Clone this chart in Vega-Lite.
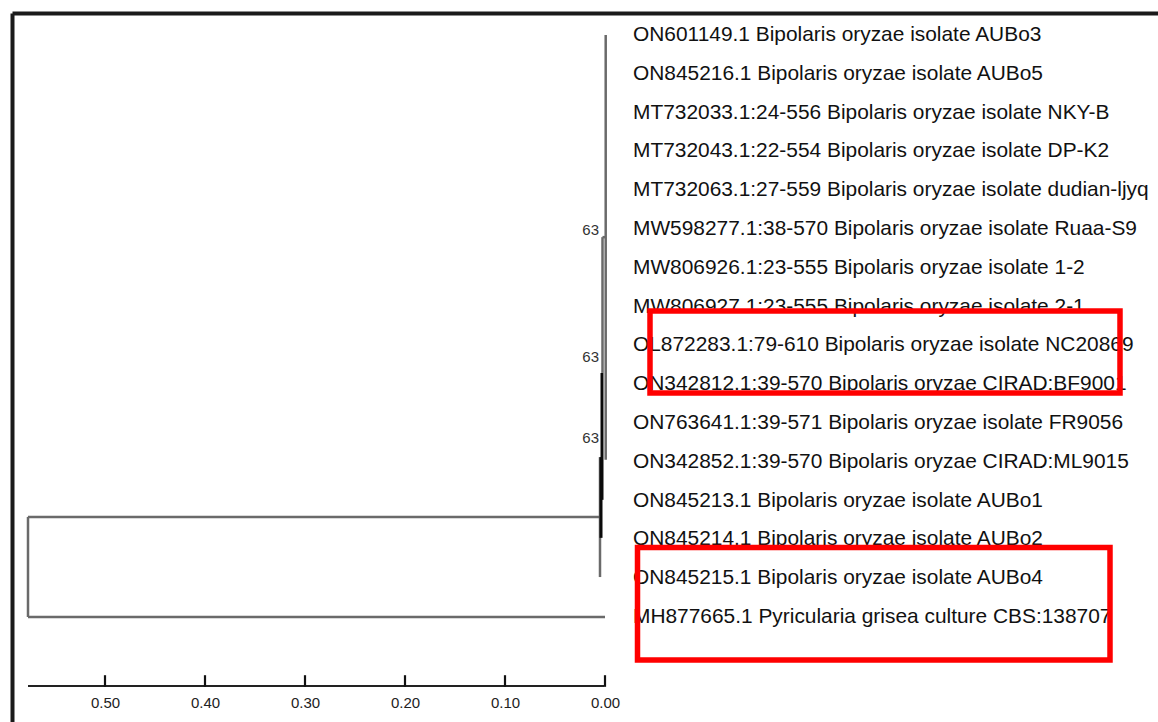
{
  "$schema": "https://vega.github.io/schema/vega-lite/v6.json",
  "width": 1146,
  "height": 709,
  "autosize": {"type": "none"},
  "padding": {"left": 12, "top": 13, "right": 0, "bottom": 0},
  "background": "#ffffff",
  "config": {"view": {"stroke": null}},
  "datasets": {
    "tips": [
      {"name": "ON601149.1 Bipolaris oryzae isolate AUBo3", "idx": 1},
      {"name": "ON845216.1 Bipolaris oryzae isolate AUBo5", "idx": 2},
      {"name": "MT732033.1:24-556 Bipolaris oryzae isolate NKY-B", "idx": 3},
      {"name": "MT732043.1:22-554 Bipolaris oryzae isolate DP-K2", "idx": 4},
      {"name": "MT732063.1:27-559 Bipolaris oryzae isolate dudian-ljyq", "idx": 5},
      {"name": "MW598277.1:38-570 Bipolaris oryzae isolate Ruaa-S9", "idx": 6},
      {"name": "MW806926.1:23-555 Bipolaris oryzae isolate 1-2", "idx": 7},
      {"name": "MW806927.1:23-555 Bipolaris oryzae isolate 2-1", "idx": 8},
      {"name": "OL872283.1:79-610 Bipolaris oryzae isolate NC20869", "idx": 9},
      {"name": "ON342812.1:39-570 Bipolaris oryzae CIRAD:BF9001", "idx": 10},
      {"name": "ON763641.1:39-571 Bipolaris oryzae isolate FR9056", "idx": 11},
      {"name": "ON342852.1:39-570 Bipolaris oryzae CIRAD:ML9015", "idx": 12},
      {"name": "ON845213.1 Bipolaris oryzae isolate AUBo1", "idx": 13},
      {"name": "ON845214.1 Bipolaris oryzae isolate AUBo2", "idx": 14},
      {"name": "ON845215.1 Bipolaris oryzae isolate AUBo4", "idx": 15},
      {"name": "MH877665.1 Pyricularia grisea culture CBS:138707", "idx": 16}
    ],
    "branches": [
      {"x1": 0.577, "x2": 0.577, "y1": 13.42, "y2": 16, "kind": "gray"},
      {"x1": 0.577, "x2": 0.0, "y1": 16, "y2": 16, "kind": "gray"},
      {"x1": 0.577, "x2": 0.005, "y1": 13.42, "y2": 13.42, "kind": "gray"},
      {"x1": 0.005, "x2": 0.005, "y1": 11.88, "y2": 14.97, "kind": "gray"},
      {"x1": 0.004, "x2": 0.004, "y1": 11.88, "y2": 13.96, "kind": "black"},
      {"x1": 0.003, "x2": 0.003, "y1": 9.71, "y2": 12.98, "kind": "black"},
      {"x1": 0.0025, "x2": 0.0025, "y1": 6.21, "y2": 9.71, "kind": "gray"},
      {"x1": 0.0025, "x2": -0.0007, "y1": 6.21, "y2": 6.21, "kind": "gray"},
      {"x1": -0.0007, "x2": -0.0007, "y1": 1, "y2": 11.95, "kind": "gray"}
    ],
    "support": [
      {"v": "63", "d": 0.006, "idx": 6.03},
      {"v": "63", "d": 0.006, "idx": 9.3},
      {"v": "63", "d": 0.006, "idx": 11.39}
    ],
    "scalebar": [
      {"x1": 0.577, "x2": 0.001, "y1": 17.778, "y2": 17.778}
    ],
    "scaleticks": [
      {"x1": 0.0, "x2": 0.0, "y1": 17.50, "y2": 17.80},
      {"x1": 0.1, "x2": 0.1, "y1": 17.50, "y2": 17.80},
      {"x1": 0.2, "x2": 0.2, "y1": 17.50, "y2": 17.80},
      {"x1": 0.3, "x2": 0.3, "y1": 17.50, "y2": 17.80},
      {"x1": 0.4, "x2": 0.4, "y1": 17.50, "y2": 17.80},
      {"x1": 0.5, "x2": 0.5, "y1": 17.50, "y2": 17.80}
    ],
    "boxes": [
      {"x1": -0.045, "x2": -0.515, "y1": 8.113, "y2": 10.227},
      {"x1": -0.0325, "x2": -0.505, "y1": 14.209, "y2": 17.108}
    ]
  },
  "resolve": {"axis": {"x": "independent", "y": "independent"}},
  "layer": [
    {
      "data": {"name": "branches"},
      "mark": {"type": "rule", "strokeCap": "butt"},
      "encoding": {
        "x": {"field": "x1", "type": "quantitative",
              "scale": {"domain": [-0.553, 0.593], "reverse": true, "nice": false, "zero": false},
              "axis": {"orient": "top", "title": null, "domain": true, "domainColor": "#1a1a1a", "domainWidth": 4, "ticks": false, "labels": false, "grid": false}},
        "x2": {"field": "x2"},
        "y": {"field": "y1", "type": "quantitative",
              "scale": {"domain": [0.433, 18.706], "reverse": true, "nice": false, "zero": false},
              "axis": {"orient": "left", "title": null, "domain": true, "domainColor": "#1a1a1a", "domainWidth": 4, "ticks": false, "labels": false, "grid": false}},
        "y2": {"field": "y2"},
        "color": {"field": "kind", "type": "nominal", "scale": {"domain": ["gray", "black"], "range": ["#6a6a6a", "#0a0a0a"]}, "legend": null},
        "strokeWidth": {"field": "kind", "type": "nominal", "scale": {"domain": ["gray", "black"], "range": [2.5, 3]}, "legend": null}
      }
    },
    {
      "data": {"name": "scalebar"},
      "mark": {"type": "rule", "color": "#222222", "strokeWidth": 2},
      "encoding": {
        "x": {"field": "x1", "type": "quantitative",
              "scale": {"domain": [-0.553, 0.593], "reverse": true, "nice": false, "zero": false},
              "axis": {"orient": "bottom", "title": null, "domain": false, "grid": false, "offset": -46,
                       "values": [0, 0.1, 0.2, 0.3, 0.4, 0.5], "format": ".2f",
                       "ticks": false,
                       "labelFont": "Liberation Sans", "labelFontSize": 15, "labelColor": "#222222", "labelPadding": 19}},
        "x2": {"field": "x2"},
        "y": {"field": "y1", "type": "quantitative", "scale": {"domain": [0.433, 18.706], "reverse": true, "nice": false, "zero": false}, "axis": null},
        "y2": {"field": "y2"}
      }
    },
    {
      "data": {"name": "scaleticks"},
      "mark": {"type": "rule", "color": "#111111", "strokeWidth": 2.2, "strokeCap": "butt"},
      "encoding": {
        "x": {"field": "x1", "type": "quantitative", "scale": {"domain": [-0.553, 0.593], "reverse": true, "nice": false, "zero": false}, "axis": null},
        "x2": {"field": "x2"},
        "y": {"field": "y1", "type": "quantitative", "scale": {"domain": [0.433, 18.706], "reverse": true, "nice": false, "zero": false}, "axis": null},
        "y2": {"field": "y2"}
      }
    },
    {
      "data": {"name": "support"},
      "mark": {"type": "text", "align": "right", "baseline": "middle", "font": "Liberation Sans", "fontSize": 15, "color": "#333333"},
      "encoding": {
        "x": {"field": "d", "type": "quantitative", "scale": {"domain": [-0.553, 0.593], "reverse": true, "nice": false, "zero": false}, "axis": null},
        "y": {"field": "idx", "type": "quantitative", "scale": {"domain": [0.433, 18.706], "reverse": true, "nice": false, "zero": false}, "axis": null},
        "text": {"field": "v"}
      }
    },
    {
      "data": {"name": "tips"},
      "mark": {"type": "text", "align": "left", "baseline": "middle", "font": "Liberation Sans", "fontSize": 20.9, "color": "#111111"},
      "encoding": {
        "x": {"datum": -0.028, "type": "quantitative", "scale": {"domain": [-0.553, 0.593], "reverse": true, "nice": false, "zero": false}, "axis": null},
        "y": {"field": "idx", "type": "quantitative", "scale": {"domain": [0.433, 18.706], "reverse": true, "nice": false, "zero": false}, "axis": null},
        "text": {"field": "name"}
      }
    },
    {
      "data": {"name": "boxes"},
      "mark": {"type": "rect", "fill": "transparent", "stroke": "#ff0000", "strokeWidth": 5.5},
      "encoding": {
        "x": {"field": "x1", "type": "quantitative", "scale": {"domain": [-0.553, 0.593], "reverse": true, "nice": false, "zero": false}, "axis": null},
        "x2": {"field": "x2"},
        "y": {"field": "y1", "type": "quantitative", "scale": {"domain": [0.433, 18.706], "reverse": true, "nice": false, "zero": false}, "axis": null},
        "y2": {"field": "y2"}
      }
    }
  ]
}
